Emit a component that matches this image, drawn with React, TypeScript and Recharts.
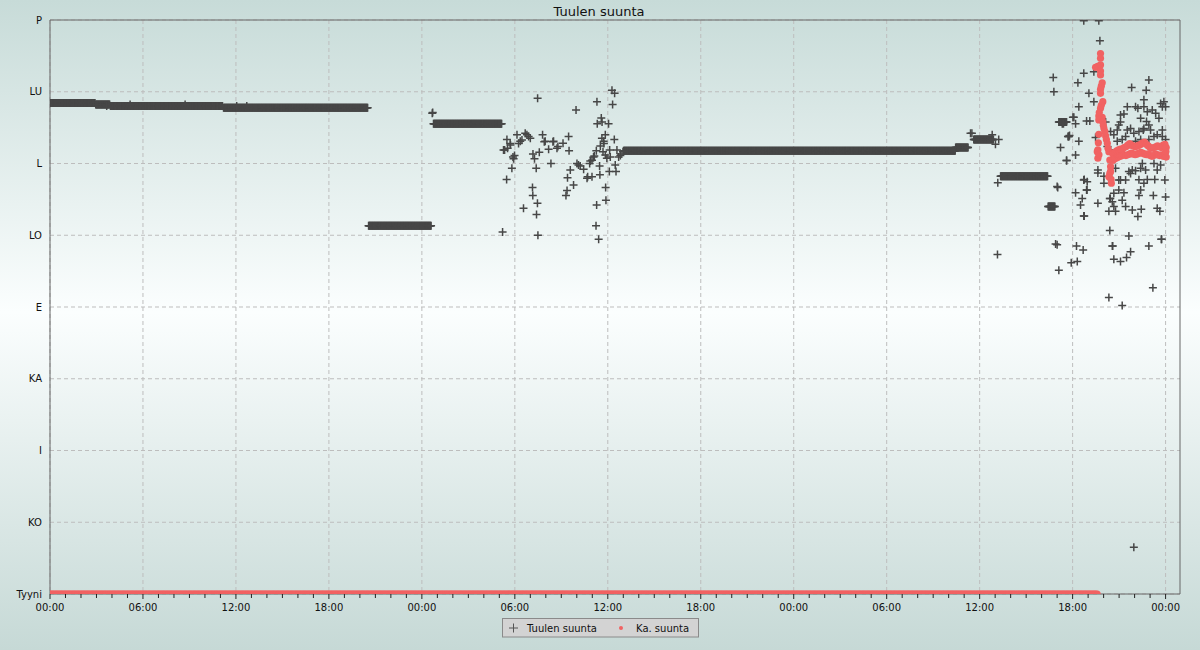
import React from 'react';
import { ScatterChart, Scatter, XAxis, YAxis, CartesianGrid, ReferenceLine } from 'recharts';

const chartTitle = 'Tuulen suunta';
const seriesNames = ['Tuulen suunta', 'Ka. suunta'];
const directionTicks = [0, 45, 90, 135, 180, 225, 270, 315, 360];
const directionLabels = ['Tyyni', 'KO', 'I', 'KA', 'E', 'LO', 'L', 'LU', 'P'];
const hourTicks = Array.from({ length: 73 }, (_, i) => i);
const majorHours = [0, 6, 12, 18, 24, 30, 36, 42, 48, 54, 60, 66, 72];
const clockLabels = ['00:00', '06:00', '12:00', '18:00'];
const X_MAX = 72.93;

// steady stretches of wind direction: [startHour, endHour, degrees], sampled every 2 min
const windRuns: [number, number, number][] = [
  [0.0, 2.9, 308],
  [2.95, 3.85, 307],
  [3.9, 11.15, 306],
  [11.2, 20.52, 305],
  [20.56, 24.62, 231],
  [24.75, 29.17, 295],
  [37.02, 58.45, 278],
  [58.45, 59.28, 280],
  [59.62, 60.91, 285],
  [61.35, 64.4, 262],
  [64.42, 64.88, 243],
  [65.11, 65.62, 296],
];

// single readings of wind direction: [hour, degrees]
const windPoints: [number, number][] = [
  [3.66, 306], [5.17, 307], [8.72, 307], [12.05, 306], [12.7, 306],
  [24.67, 301.5], [24.7, 302],
  [29.21, 227], [31.47, 311], [29.47, 260], [29.49, 285], [29.34, 278.5], [29.27, 278.5], [29.53, 279.5],
  [29.7, 282.6], [29.72, 281.6], [29.98, 275], [29.92, 273], [29.88, 274], [29.81, 267], [30.14, 288],
  [30.35, 284], [30.24, 282.6], [30.46, 284.7], [30.67, 289], [30.78, 288], [30.89, 287], [31.0, 285.8],
  [31.17, 276], [31.27, 273], [31.38, 267], [31.14, 255], [31.16, 250], [31.46, 245], [30.56, 242],
  [31.4, 238], [31.49, 225], [31.58, 277], [31.79, 288], [31.96, 284], [31.9, 283.7], [32.18, 279],
  [32.33, 270], [32.46, 283.7], [32.5, 284], [32.72, 279.5], [32.78, 280.6], [33.11, 282.7], [33.47, 287],
  [33.5, 278], [33.95, 303.6], [33.58, 266], [33.4, 261], [33.37, 253], [33.3, 250], [33.79, 256.5],
  [34.01, 270], [34.11, 269], [34.22, 268.5], [34.44, 266.4], [34.7, 261.7], [34.66, 260.7], [34.98, 261.7],
  [34.83, 270], [34.87, 271.5], [34.98, 272], [35.08, 274], [35.13, 274.7], [35.26, 278], [35.3, 308.8],
  [35.32, 295], [35.58, 298.5], [35.63, 296], [35.62, 285.8], [35.84, 288], [35.73, 284], [35.75, 282.6],
  [35.69, 277.4], [35.52, 281], [35.84, 275.3], [35.94, 273.3], [35.47, 268.5], [35.49, 263], [35.28, 244],
  [35.24, 231], [35.41, 222.5], [35.86, 255], [35.88, 247], [36.05, 295], [36.27, 316], [36.44, 314],
  [36.31, 307], [36.42, 285], [36.12, 278.5], [36.16, 274], [36.59, 278.5], [36.48, 269], [36.53, 265],
  [36.1, 265], [36.7, 274], [36.81, 275], [36.85, 276], [36.98, 277.4],
  [59.41, 289], [59.5, 289], [60.81, 288], [61.02, 282], [61.23, 285], [61.17, 258], [61.15, 213],
  [64.75, 324], [64.79, 315], [65.0, 255.5], [65.04, 255], [64.9, 219.5], [65.0, 219], [65.11, 203],
  [65.33, 295], [65.74, 287], [65.7, 287], [65.22, 280], [65.61, 272],
  [66.72, 359.5], [67.69, 359.5], [67.76, 347], [66.72, 326.6], [67.37, 327.6], [66.34, 320.6],
  [67.05, 314], [67.37, 308.8], [66.4, 305.6], [70.92, 322.4], [69.81, 317.6], [70.75, 316], [70.6, 310],
  [71.89, 308.8], [71.79, 305.6], [66.08, 299], [66.02, 299], [65.41, 295], [67.11, 296.7], [66.9, 296.7],
  [66.19, 295], [68.13, 296], [69.09, 296], [69.31, 301], [69.53, 305.6], [70.06, 305.6], [70.21, 304.6],
  [70.6, 305.6], [70.82, 302.5], [71.14, 303.6], [71.36, 301.5], [71.57, 298.4], [71.68, 307.7], [72.0, 305.6],
  [69.09, 300.4], [70.39, 298.4], [70.77, 296.3], [70.92, 294.2], [70.6, 292], [68.98, 294.2], [68.88, 291],
  [68.45, 290], [68.66, 288], [69.53, 291], [69.74, 292], [69.95, 289], [70.28, 290], [70.56, 291],
  [71.03, 291], [71.25, 287], [71.46, 288], [71.79, 291], [71.79, 287], [72.0, 285], [69.42, 287],
  [69.2, 285], [68.88, 284], [70.06, 284], [70.39, 285], [70.92, 285], [65.76, 287], [65.8, 287.5],
  [66.4, 284], [67.48, 286.3], [68.24, 280.6], [68.45, 278.5],
  [66.19, 275.3], [65.61, 271.8], [67.63, 266], [67.63, 264], [68.02, 262], [68.02, 257.6], [66.72, 259.7],
  [66.75, 260], [66.94, 258.6], [66.9, 253.4], [66.93, 253.4], [66.19, 251.7], [66.62, 248], [66.51, 244],
  [66.72, 237], [66.75, 237], [67.63, 245], [68.4, 248], [68.43, 248], [68.56, 246], [68.66, 243],
  [68.34, 240], [68.77, 240], [68.4, 228], [68.56, 218.3], [68.59, 218.3], [69.63, 224.5], [66.25, 218.3],
  [66.68, 215.7], [65.91, 207.8], [66.3, 208.5], [68.66, 210], [69.09, 208.5], [69.48, 211], [69.74, 214.7],
  [70.92, 218.3], [71.72, 222.5], [71.75, 222.5], [70.21, 236.7], [70.43, 241.3], [69.85, 240.8],
  [69.42, 243], [69.2, 247], [68.66, 251.3], [68.98, 253.4], [69.31, 251.7], [70.28, 250], [70.39, 253.4],
  [71.21, 250], [72.0, 249], [71.46, 242], [71.63, 240], [70.28, 259.8], [70.6, 257.6], [70.82, 260],
  [71.3, 260], [71.95, 259.7], [68.98, 259.7], [69.42, 259.7], [69.74, 263.8], [69.63, 265], [69.85, 266],
  [70.06, 265.5], [70.39, 267], [70.71, 266], [71.46, 266], [71.68, 269], [71.25, 270], [70.5, 270],
  [68.77, 267], [69.09, 259.7], [68.77, 276], [71.18, 192], [68.34, 186], [69.2, 181], [69.95, 29.3],
];

// average direction: calm stretch [startHour, endHour, degrees]
const avgRuns: [number, number, number][] = [[0.0, 67.62, 0]];

// average direction readings: [hour, degrees]
const avgPoints: [number, number][] = [
  [67.8, 339], [67.8, 336], [67.8, 331.8], [67.48, 330.3], [67.62, 331], [67.8, 328], [67.8, 325.5],
  [67.91, 320.6], [67.85, 318.5], [67.8, 316.5], [67.8, 314], [67.95, 308.8], [67.85, 306.5], [67.8, 304.6],
  [67.69, 299.8], [67.91, 299], [67.69, 297.3], [67.95, 296.2], [68.02, 292], [67.69, 288.3], [68.13, 287.3],
  [68.18, 285], [68.24, 282.7], [67.63, 278.5], [68.34, 277.4], [67.63, 273.3], [67.59, 277.4], [68.4, 272.2],
  [68.45, 268], [68.4, 263.9], [68.5, 257.6], [68.34, 261.7], [68.48, 260], [68.45, 265],
  [67.72, 302], [67.98, 294], [68.08, 290], [67.66, 283], [68.28, 279.5], [67.7, 275.5],
  [68.6, 276], [68.6, 272], [68.72, 277], [68.72, 273], [68.84, 278], [68.84, 273.5], [68.96, 278.5],
  [68.96, 274], [69.08, 279], [69.08, 274.5], [69.2, 279], [69.2, 275], [69.32, 280], [69.32, 275.5],
  [69.44, 280.5], [69.44, 275], [69.56, 281.5], [69.56, 275.5], [69.68, 282.5], [69.68, 276],
  [69.8, 281.5], [69.8, 276.5], [69.92, 281], [69.92, 276], [70.04, 280.5], [70.04, 275.5], [70.16, 281],
  [70.16, 276], [70.28, 281.5], [70.28, 276.5], [70.4, 282], [70.4, 277], [70.52, 283], [70.52, 276.5],
  [70.64, 283.5], [70.64, 276], [70.76, 282], [70.76, 275.5], [70.88, 281], [70.88, 276], [71.0, 280],
  [71.0, 275], [71.12, 279.5], [71.12, 274.5], [71.24, 280], [71.24, 275], [71.36, 280.5], [71.36, 276],
  [71.48, 281], [71.48, 275.5], [71.6, 280.5], [71.6, 275], [71.72, 280], [71.72, 275.5], [71.84, 281.5],
  [71.84, 274.5], [71.96, 282], [71.96, 276], [72.04, 280], [72.04, 274], [72.02, 277.5],
];

const WIND_STEP = 1 / 30;
const AVG_STEP = 1 / 12;
const expand = (runs: [number, number, number][], pts: [number, number][], step: number) => {
  const out: { t: number; v: number }[] = [];
  runs.forEach(([a, b, v]) => {
    for (let t = a; t <= b + 1e-9; t += step) out.push({ t, v });
  });
  pts.forEach(([t, v]) => out.push({ t, v }));
  return out;
};

const windData = expand(windRuns, windPoints, WIND_STEP);
const avgData = expand(avgRuns, avgPoints, AVG_STEP);

const GREY = '#474747';
const RED = '#f16262';
const FONT = 'DejaVu Sans, Verdana, sans-serif';

const PlusShape = (props: any) => {
  const { cx, cy } = props;
  if (cx == null || cy == null) return null;
  return (
    <path d={`M${cx - 4},${cy}H${cx + 4}M${cx},${cy - 4}V${cy + 4}`} stroke={GREY} strokeWidth={1.5} fill="none" />
  );
};

const DotShape = (props: any) => {
  const { cx, cy } = props;
  if (cx == null || cy == null) return null;
  return <circle cx={cx} cy={cy} r={3.6} fill={RED} />;
};

const XTick = (props: any) => {
  const { x, y, payload } = props;
  const h = payload.value as number;
  const major = majorHours.includes(h);
  return (
    <g>
      <line x1={x} x2={x} y1={y} y2={y + (major ? 5 : 4)} stroke="#222" strokeWidth={1} />
      {major && (
        <text x={x} y={y + 17} textAnchor="middle" fontSize={10} fill="#111" fontFamily={FONT}>
          {clockLabels[(h / 6) % 4]}
        </text>
      )}
    </g>
  );
};

export default function App() {
  return (
    <div
      style={{
        position: 'absolute',
        left: 0,
        top: 0,
        width: 1200,
        height: 650,
        background: 'linear-gradient(to bottom, #c7dbd8 0%, #fbfefe 48%, #c6d9d6 100%)',
        fontFamily: FONT,
      }}
    >
      <ScatterChart width={1200} height={650} margin={{ top: 20, right: 20, bottom: 0, left: 0 }}>
        <CartesianGrid
          stroke="#bdbdbd"
          strokeDasharray="4 3"
          verticalValues={majorHours}
          horizontalValues={directionTicks}
        />
        <XAxis
          type="number"
          dataKey="t"
          domain={[0, X_MAX]}
          ticks={hourTicks}
          interval={0}
          allowDataOverflow
          height={56}
          tickSize={0}
          tickMargin={0}
          tickLine={false}
          tick={<XTick />}
          axisLine={{ stroke: '#666' }}
        />
        <YAxis
          type="number"
          dataKey="v"
          domain={[0, 360]}
          ticks={directionTicks}
          interval={0}
          allowDataOverflow
          width={50}
          tickSize={0}
          tickMargin={8}
          tickLine={false}
          tickFormatter={(v: number) => directionLabels[directionTicks.indexOf(v)]}
          tick={{ fontSize: 10, fill: '#111', fontFamily: FONT }}
          axisLine={{ stroke: '#666' }}
        />
        <ReferenceLine y={360} stroke="#666" />
        <ReferenceLine x={X_MAX} stroke="#666" />
        <Scatter name={seriesNames[0]} data={windData} shape={<PlusShape />} isAnimationActive={false} />
        <Scatter name={seriesNames[1]} data={avgData} shape={<DotShape />} isAnimationActive={false} />
      </ScatterChart>
      <svg width={1200} height={650} style={{ position: 'absolute', left: 0, top: 0, pointerEvents: 'none' }}>
        <text x={599} y={15.5} textAnchor="middle" fontSize={13} fill="#111" fontFamily={FONT}>
          {chartTitle}
        </text>
        <rect x={502.5} y={618.5} width={196} height={18.5} fill="#d3d3d3" stroke="#8a8a8a" />
        <path d="M509,628H518M513.5,623.5V632.5" stroke="#555" strokeWidth={1} />
        <text x={527} y={631.5} fontSize={10} fill="#111" fontFamily={FONT}>
          {seriesNames[0]}
        </text>
        <circle cx={621} cy={628} r={2} fill={RED} />
        <text x={636} y={631.5} fontSize={10} fill="#111" fontFamily={FONT}>
          {seriesNames[1]}
        </text>
      </svg>
    </div>
  );
}
